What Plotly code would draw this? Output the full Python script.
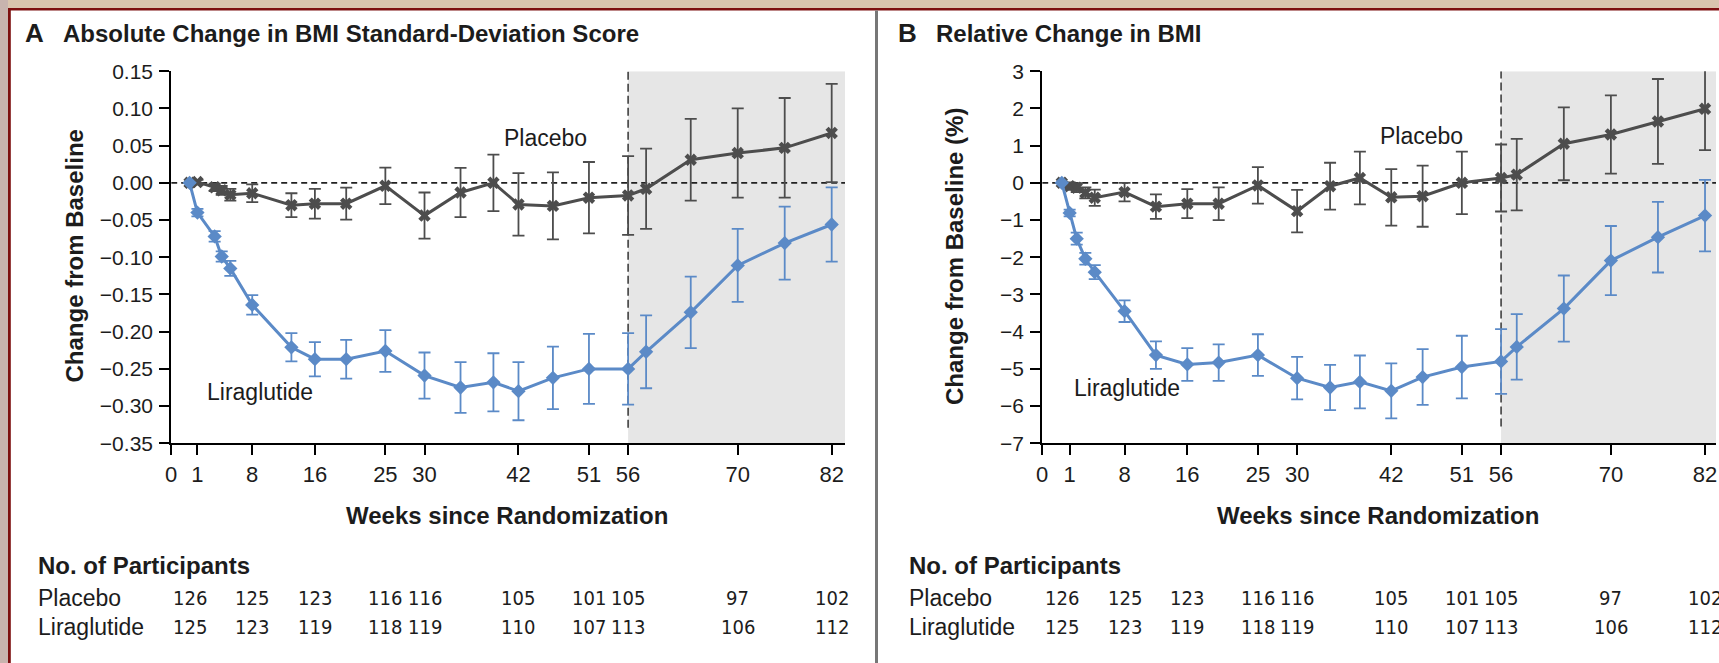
import plotly.graph_objects as go

# ---- data -------------------------------------------------------------
# visit weeks as plotted in each panel
weeks_abs = [0, 1, 3.2, 4.1, 5.2, 8, 13, 16, 20, 25, 30, 34.6, 38.8, 42, 46.4, 51, 56, 58.3, 64, 70, 76, 82]
weeks_rel = [0, 1, 1.9, 3, 4.2, 8, 12, 16, 20, 25, 30, 34.2, 38, 42, 46, 51, 56, 58, 64, 70, 76, 82]

# Panel A: absolute change in BMI SD score
abs_lira = [0, -0.040, -0.072, -0.099, -0.115, -0.164, -0.221, -0.237, -0.237, -0.226, -0.259,
            -0.275, -0.268, -0.280, -0.262, -0.250, -0.250, -0.227, -0.174, -0.111, -0.081, -0.056]
abs_lira_err = [0, 0.005, 0.007, 0.007, 0.010, 0.013, 0.019, 0.023, 0.026, 0.028, 0.031,
                0.034, 0.039, 0.039, 0.042, 0.047, 0.048, 0.049, 0.048, 0.049, 0.049, 0.050]
abs_plac = [0, 0.001, -0.006, -0.010, -0.016, -0.014, -0.030, -0.028, -0.028, -0.004, -0.044,
            -0.013, 0.000, -0.029, -0.031, -0.020, -0.017, -0.008, 0.031, 0.040, 0.047, 0.067]
abs_plac_err = [0, 0.003, 0.005, 0.006, 0.008, 0.012, 0.016, 0.020, 0.0215, 0.0245, 0.031,
                0.033, 0.038, 0.042, 0.045, 0.048, 0.053, 0.054, 0.055, 0.060, 0.067, 0.066]

# Panel B: relative change in BMI (%)
rel_lira = [0, -0.81, -1.50, -2.04, -2.40, -3.45, -4.63, -4.88, -4.83, -4.63, -5.25,
            -5.50, -5.35, -5.59, -5.22, -4.95, -4.80, -4.41, -3.38, -2.09, -1.46, -0.88]
rel_lira_err = [0, 0.09, 0.16, 0.16, 0.19, 0.29, 0.37, 0.44, 0.49, 0.56, 0.57,
                0.61, 0.71, 0.74, 0.75, 0.84, 0.87, 0.88, 0.89, 0.93, 0.95, 0.96]
rel_plac = [0, -0.09, -0.13, -0.27, -0.40, -0.25, -0.64, -0.56, -0.56, -0.07, -0.76,
            -0.09, 0.13, -0.39, -0.36, 0.00, 0.13, 0.22, 1.05, 1.30, 1.65, 1.99]
rel_plac_err = [0, 0.10, 0.12, 0.15, 0.22, 0.25, 0.33, 0.39, 0.44, 0.49, 0.57,
                0.63, 0.71, 0.76, 0.82, 0.84, 0.90, 0.96, 0.98, 1.05, 1.14, 1.11]

tick_weeks = [0, 1, 8, 16, 25, 30, 42, 51, 56, 70, 82]

# participants at risk
count_weeks = [0, 8, 16, 25, 30, 42, 51, 56, 70, 82]
n_placebo = [126, 125, 123, 116, 116, 105, 101, 105, 97, 102]
n_liraglutide = [125, 123, 119, 118, 119, 110, 107, 113, 106, 112]

# ---- styling ----------------------------------------------------------
W, H = 1719, 663
BLUE = "#5b8ac7"
GREY = "#4d4d4d"
TXT = "#1c1c1c"
FONT = "Liberation Sans, Arial, sans-serif"
NARROW = "Liberation Sans Narrow, DejaVu Sans Condensed, Arial Narrow, sans-serif"


def px(x):
    return min(1.0, max(0.0, x / W))


def py(y):
    return min(1.0, max(0.0, 1 - y / H))


fig = go.Figure()


def add_series(xs, ys, err, color, symbol, size, xa, ya):
    fig.add_trace(go.Scatter(
        x=xs, y=ys, mode="lines+markers", xaxis=xa, yaxis=ya,
        line=dict(color=color, width=3),
        marker=dict(symbol=symbol, size=size, color=color,
                    line=dict(width=0, color=color)),
        error_y=dict(type="data", array=err, color=color, thickness=1.8, width=6),
        showlegend=False, cliponaxis=False,
    ))


add_series(weeks_abs, abs_plac, abs_plac_err, GREY, "x", 11, "x", "y")
add_series(weeks_abs, abs_lira, abs_lira_err, BLUE, "diamond", 11, "x", "y")
add_series(weeks_rel, rel_plac, rel_plac_err, GREY, "x", 11, "x2", "y2")
add_series(weeks_rel, rel_lira, rel_lira_err, BLUE, "diamond", 11, "x2", "y2")

y_dom = [py(443.3), py(71.2)]
xa_range = [-2.35, 83.7]
xb_range = [-2.5, 83.4]
ya_range = [-0.35, 0.15]
yb_range = [-7, 3]


def x_axis(domain, rng, anchor):
    # the origin of the time axis is labelled 0 (baseline); other ticks sit on their week
    vals = [rng[0]] + tick_weeks[1:]
    return dict(
        domain=domain, range=rng, anchor=anchor, automargin=False,
        tickmode="array", tickvals=vals, ticktext=[str(t) for t in tick_weeks], tickangle=0,
        ticks="outside", ticklen=10, tickwidth=2, tickcolor="black",
        showline=True, linecolor="black", linewidth=2, showgrid=False, zeroline=False,
        tickfont=dict(family=FONT, size=22, color=TXT),
    )


common_y = dict(
    automargin=False, ticklabelstandoff=2,
    ticks="outside", ticklen=10, tickwidth=2, tickcolor="black",
    showline=True, linecolor="black", linewidth=2, showgrid=False, zeroline=False,
    tickfont=dict(family=FONT, size=21, color=TXT),
)

fig.update_layout(
    width=W, height=H, margin=dict(l=0, r=0, t=0, b=0, autoexpand=False),
    paper_bgcolor="white", plot_bgcolor="rgba(0,0,0,0)",
    xaxis=x_axis([px(171.2), px(845)], xa_range, "y"),
    yaxis=dict(domain=y_dom, range=ya_range, anchor="x", dtick=0.05, tickformat=".2f", **common_y),
    xaxis2=x_axis([px(1042.2), px(1716)], xb_range, "y2"),
    yaxis2=dict(domain=y_dom, range=yb_range, anchor="x2", dtick=1, **common_y),
)

shapes = []
# open-label follow-up shading and reference lines
for xr, yr, xrng, yrng, ybot in (("x", "y", xa_range, ya_range, -0.329),
                                 ("x2", "y2", xb_range, yb_range, -6.55)):
    shapes.append(dict(type="rect", xref=xr, yref=yr, x0=56, x1=xrng[1], y0=yrng[0], y1=yrng[1],
                       fillcolor="#e6e6e6", line=dict(width=0), layer="below"))
    shapes.append(dict(type="line", xref=xr, yref=yr, x0=xrng[0], x1=xrng[1], y0=0, y1=0,
                       line=dict(color="#222222", width=1.6, dash="6px,4px"), layer="below"))
    shapes.append(dict(type="line", xref=xr, yref=yr, x0=56, x1=56, y0=ybot, y1=yrng[1],
                       line=dict(color="#333333", width=1.5, dash="8px,4px"), layer="below"))

# page frame: tan surround, dark red rule, grey rule between panels
shapes += [
    dict(type="rect", xref="paper", yref="paper", x0=0, x1=1, y0=py(8), y1=1,
         fillcolor="#d9c5ae", line=dict(width=0)),
    dict(type="rect", xref="paper", yref="paper", x0=0, x1=px(8), y0=0, y1=1,
         fillcolor="#c8b4ae", line=dict(width=0)),
    dict(type="rect", xref="paper", yref="paper", x0=px(8), x1=1, y0=py(10.5), y1=py(8),
         fillcolor="#7d1010", line=dict(width=0)),
    dict(type="rect", xref="paper", yref="paper", x0=px(8), x1=px(10.8), y0=0, y1=py(8),
         fillcolor="#7d1010", line=dict(width=0)),
    dict(type="rect", xref="paper", yref="paper", x0=px(875), x1=px(878), y0=0, y1=py(10.5),
         fillcolor="#777777", line=dict(width=0)),
]
fig.update_layout(shapes=shapes)

ann = []


def text(x, y, s, size=22, bold=False, anchor="left", xref="paper", family=FONT, angle=0):
    ann.append(dict(x=x, y=y, xref=xref, yref="paper", text=f"<b>{s}</b>" if bold else s,
                    showarrow=False, xanchor=anchor, yanchor="middle", textangle=angle,
                    font=dict(family=family, size=size, color=TXT)))


# panel headings
text(px(23), py(33), "A", size=26, bold=True)
text(px(61), py(33), "Absolute Change in BMI Standard-Deviation Score", size=24, bold=True)
text(px(896), py(33), "B", size=26, bold=True)
text(px(934), py(33), "Relative Change in BMI", size=24, bold=True)

# axis titles
text(px(74.5), py(256), "Change from Baseline", size=24, bold=True, anchor="center", angle=-90)
text(px(955), py(257), "Change from Baseline (%)", size=24, bold=True, anchor="center", angle=-90)
text(px(507), py(515), "Weeks since Randomization", size=24, bold=True, anchor="center")
text(px(1378), py(515), "Weeks since Randomization", size=24, bold=True, anchor="center")

# series labels
for xr, yr, plac_xy, lira_xy in (("x", "y", (45.4, 0.060), (9.05, -0.281)),
                                 ("x2", "y2", (45.8, 1.27), (8.3, -5.52))):
    for (lx, ly), s in ((plac_xy, "Placebo"), (lira_xy, "Liraglutide")):
        ann.append(dict(x=lx, y=ly, xref=xr, yref=yr, text=s, showarrow=False,
                        xanchor="center", yanchor="middle",
                        font=dict(family=FONT, size=23, color=TXT)))

# number-at-risk tables
for xr, left in (("x", 36), ("x2", 907)):
    text(px(left), py(565), "No. of Participants", size=24, bold=True)
    text(px(left), py(597.5), "Placebo", size=23)
    text(px(left), py(627), "Liraglutide", size=23)
    for wk, a, b in zip(count_weeks, n_placebo, n_liraglutide):
        text(wk, py(597.5), str(a), size=20, anchor="center", xref=xr, family=NARROW)
        text(wk, py(627), str(b), size=20, anchor="center", xref=xr, family=NARROW)

fig.update_layout(annotations=ann)

fig.write_html("out.html")
